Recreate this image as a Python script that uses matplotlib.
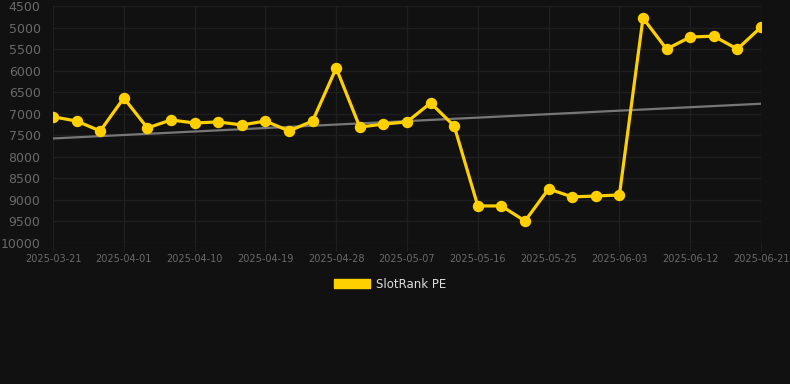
import numpy as np
import matplotlib.pyplot as plt
from matplotlib.patches import Patch

# category dates (one point every 3 days, label every 3rd point)
dates = ["2025-03-21", "2025-03-25", "2025-03-28", "2025-04-01", "2025-04-04",
         "2025-04-07", "2025-04-10", "2025-04-13", "2025-04-16", "2025-04-19",
         "2025-04-22", "2025-04-25", "2025-04-28", "2025-05-01", "2025-05-04",
         "2025-05-07", "2025-05-10", "2025-05-13", "2025-05-16", "2025-05-19",
         "2025-05-22", "2025-05-25", "2025-05-28", "2025-05-31", "2025-06-03",
         "2025-06-06", "2025-06-09", "2025-06-12", "2025-06-15", "2025-06-18",
         "2025-06-21"]
rank = [7070, 7170, 7400, 6635, 7330, 7145, 7215, 7190, 7260, 7170,
        7400, 7170, 5940, 7310, 7240, 7190, 6750, 7285, 9140, 9140,
        9490, 8745, 8930, 8910, 8885, 4780, 5500, 5220, 5200, 5500,
        4990]
yticks = [4500, 5000, 5500, 6000, 6500, 7000, 7500, 8000, 8500, 9000, 9500, 10000]

bg = "#111111"
gold = "#FFD000"
grid = "#1f1f1f"

fig = plt.figure(figsize=(7.9, 3.84), dpi=100, facecolor=bg)
ax = fig.add_axes([53 / 790, 1 - 243 / 384, (761 - 53) / 790, (243 - 6) / 384])
ax.set_facecolor(bg)

x = np.arange(len(rank))
# linear trend of the series
k, b = np.polyfit(x, rank, 1)
ax.plot(x, k * x + b, color="#777777", lw=1.6, zorder=2)
ax.plot(x, rank, color=gold, lw=2.3, marker="o", ms=7.2, zorder=3)

ax.set_xlim(0, len(rank) - 1)
ax.set_ylim(10000, 4500)
ax.set_yticks(yticks)
ax.set_xticks(x[::3])
ax.set_xticklabels(dates[::3])
ax.grid(True, color=grid, lw=1)
for s in ax.spines.values():
    s.set_visible(False)
ax.tick_params(axis="y", length=0, pad=9, labelsize=9, labelcolor="#6a6a6a")
ax.tick_params(axis="x", length=6, color=grid, pad=2, labelsize=7, labelcolor="#6a6a6a")

fig.legend(handles=[Patch(facecolor=gold, edgecolor=gold)], labels=["SlotRank PE"],
           loc="center", bbox_to_anchor=(390 / 790, 1 - 284 / 384), frameon=False,
           handlelength=3.0, handleheight=0.8, handletextpad=0.5,
           labelcolor="#dddddd", fontsize=8.5)

fig.savefig("out.png", dpi=100, facecolor=bg)
